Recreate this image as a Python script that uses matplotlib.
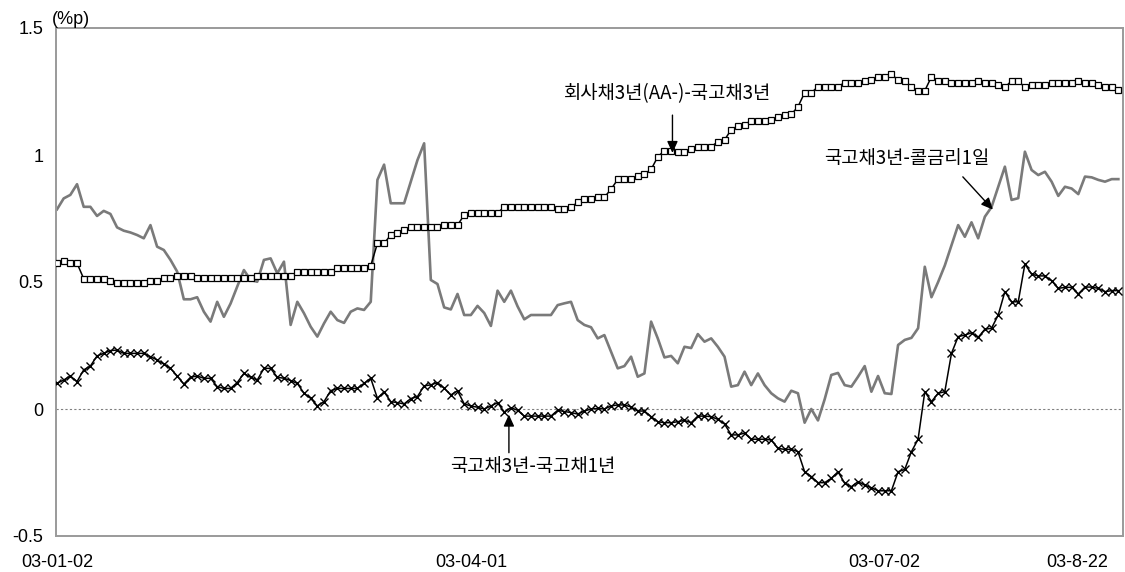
import matplotlib
matplotlib.use("Agg")
import matplotlib.pyplot as plt
import numpy as np

# ---- data (trading days 2003-01-02 .. 2003-08-22) ----
corp_minus_ktb3 = [  # 회사채3년(AA-)-국고채3년
    0.574, 0.583, 0.574, 0.574, 0.513, 0.513, 0.513, 0.513, 0.505, 0.495,
    0.495, 0.495, 0.495, 0.495, 0.505, 0.505, 0.514, 0.514, 0.525, 0.525,
    0.525, 0.514, 0.514, 0.514, 0.514, 0.514, 0.514, 0.514, 0.514, 0.514,
    0.522, 0.525, 0.525, 0.525, 0.525, 0.525, 0.539, 0.541, 0.541, 0.541,
    0.541, 0.541, 0.554, 0.554, 0.554, 0.554, 0.554, 0.564, 0.652, 0.652,
    0.685, 0.694, 0.705, 0.715, 0.715, 0.715, 0.715, 0.715, 0.724, 0.724,
    0.724, 0.764, 0.773, 0.773, 0.773, 0.773, 0.773, 0.794, 0.794, 0.794,
    0.794, 0.794, 0.794, 0.794, 0.794, 0.787, 0.787, 0.795, 0.813, 0.826,
    0.826, 0.834, 0.834, 0.865, 0.904, 0.904, 0.904, 0.917, 0.925, 0.943,
    0.993, 1.017, 1.017, 1.013, 1.013, 1.022, 1.033, 1.033, 1.033, 1.052,
    1.059, 1.100, 1.114, 1.120, 1.135, 1.135, 1.135, 1.138, 1.148, 1.157,
    1.160, 1.190, 1.245, 1.245, 1.269, 1.269, 1.269, 1.269, 1.285, 1.285,
    1.285, 1.291, 1.295, 1.306, 1.306, 1.318, 1.295, 1.292, 1.269, 1.253,
    1.253, 1.308, 1.293, 1.293, 1.285, 1.285, 1.285, 1.285, 1.292, 1.285,
    1.285, 1.276, 1.266, 1.292, 1.292, 1.266, 1.276, 1.276, 1.276, 1.285,
    1.285, 1.285, 1.285, 1.292, 1.285, 1.285, 1.276, 1.269, 1.269, 1.256,
]

ktb3_minus_call = [  # 국고채3년-콜금리1일
    0.786, 0.829, 0.843, 0.885, 0.796, 0.796, 0.760, 0.780, 0.768, 0.715,
    0.702, 0.695, 0.685, 0.672, 0.724, 0.639, 0.626, 0.587, 0.541, 0.432,
    0.432, 0.440, 0.383, 0.344, 0.422, 0.363, 0.415, 0.482, 0.547, 0.508,
    0.501, 0.587, 0.593, 0.534, 0.580, 0.331, 0.422, 0.377, 0.324, 0.285,
    0.337, 0.383, 0.350, 0.339, 0.383, 0.396, 0.390, 0.422, 0.902, 0.962,
    0.810, 0.810, 0.810, 0.895, 0.980, 1.046, 0.508, 0.492, 0.400, 0.392,
    0.453, 0.370, 0.370, 0.406, 0.378, 0.327, 0.466, 0.422, 0.466, 0.404,
    0.353, 0.370, 0.370, 0.370, 0.370, 0.409, 0.416, 0.422, 0.350, 0.331,
    0.322, 0.278, 0.291, 0.226, 0.160, 0.169, 0.206, 0.127, 0.140, 0.344,
    0.278, 0.203, 0.209, 0.180, 0.245, 0.240, 0.295, 0.265, 0.278, 0.245,
    0.206, 0.088, 0.094, 0.147, 0.094, 0.140, 0.094, 0.062, 0.042, 0.029,
    0.072, 0.062, -0.054, 0.000, -0.045, 0.038, 0.134, 0.142, 0.094, 0.088,
    0.127, 0.169, 0.068, 0.130, 0.062, 0.059, 0.252, 0.272, 0.280, 0.318,
    0.560, 0.440, 0.500, 0.565, 0.645, 0.724, 0.678, 0.735, 0.672, 0.757,
    0.795, 0.875, 0.954, 0.823, 0.830, 1.013, 0.941, 0.921, 0.934, 0.895,
    0.839, 0.875, 0.868, 0.846, 0.915, 0.912, 0.902, 0.895, 0.905, 0.905,
]

ktb3_minus_ktb1 = [  # 국고채3년-국고채1년
    0.101, 0.114, 0.130, 0.108, 0.154, 0.169, 0.209, 0.219, 0.230, 0.232,
    0.219, 0.219, 0.219, 0.219, 0.206, 0.193, 0.177, 0.160, 0.130, 0.098,
    0.125, 0.130, 0.121, 0.121, 0.088, 0.081, 0.081, 0.104, 0.140, 0.125,
    0.114, 0.160, 0.160, 0.125, 0.121, 0.112, 0.101, 0.062, 0.042, 0.012,
    0.029, 0.072, 0.081, 0.081, 0.081, 0.081, 0.101, 0.121, 0.042, 0.068,
    0.029, 0.025, 0.020, 0.041, 0.049, 0.091, 0.095, 0.104, 0.082, 0.055,
    0.072, 0.020, 0.012, 0.007, 0.000, 0.012, 0.025, -0.012, 0.005, -0.005,
    -0.028, -0.028, -0.028, -0.028, -0.028, -0.005, -0.010, -0.014, -0.020, -0.008,
    0.000, 0.002, 0.000, 0.012, 0.016, 0.016, 0.008, -0.008, -0.008, -0.030,
    -0.050, -0.054, -0.054, -0.050, -0.045, -0.054, -0.028, -0.028, -0.030, -0.041,
    -0.059, -0.102, -0.102, -0.095, -0.119, -0.119, -0.119, -0.122, -0.155, -0.159,
    -0.159, -0.168, -0.247, -0.266, -0.290, -0.290, -0.273, -0.247, -0.292, -0.306,
    -0.286, -0.300, -0.310, -0.322, -0.322, -0.322, -0.247, -0.238, -0.168, -0.119,
    0.068, 0.029, 0.062, 0.068, 0.219, 0.285, 0.291, 0.300, 0.282, 0.314,
    0.318, 0.370, 0.462, 0.422, 0.422, 0.571, 0.531, 0.524, 0.524, 0.505,
    0.475, 0.479, 0.479, 0.453, 0.480, 0.480, 0.475, 0.462, 0.466, 0.466,
]

xtick_pos = [0, 62, 124, 152.8]
xtick_labels = ["03-01-02", "03-04-01", "03-07-02", "03-8-22"]
ytick_vals = [-0.5, 0, 0.5, 1, 1.5]
ytick_labels = ["-0.5", "0", "0.5", "1", "1.5"]

label_corp = "회사채3년(AA-)-국고채3년"
label_call = "국고채3년-콜금리1일"
label_ktb1 = "국고채3년-국고채1년"

# ---- plotting ----
plt.rcParams['font.family'] = ['Liberation Sans', 'Noto Sans CJK KR', 'DejaVu Sans']

fig = plt.figure(figsize=(11.25, 5.72), dpi=100)
ax = fig.add_axes([56 / 1125, 36 / 572, 1066.7 / 1125, 508 / 572])

x = np.arange(len(corp_minus_ktb3))

ax.axhline(0, color='#808080', lw=0.8, ls=(0, (2, 2)), zorder=1)

ax.plot(x, ktb3_minus_call, color='#7a7a7a', lw=1.9, zorder=2)
ax.plot(x, corp_minus_ktb3, color='black', lw=1.1, marker='s', markersize=3.9,
        mfc='white', mec='black', mew=0.9, zorder=3)
ax.plot(x, ktb3_minus_ktb1, color='black', lw=1.1, marker='x', markersize=6,
        mec='black', mew=1.0, zorder=3)

ax.set_xlim(-0.15, 159.65)
ax.set_ylim(-0.5, 1.5)

for s in ax.spines.values():
    s.set_color('#9a9a9a')
    s.set_linewidth(1.4)

ax.set_yticks(ytick_vals)
ax.set_yticklabels(ytick_labels)
ax.set_xticks(xtick_pos)
ax.set_xticklabels(xtick_labels)
ax.tick_params(axis='both', length=0, labelsize=13, colors='black')
ax.tick_params(axis='y', pad=9)
ax.tick_params(axis='x', pad=13)

ax.text(-0.7, 1.5, "(%p)", ha='left', va='bottom', fontsize=13,
        transform=ax.transData, clip_on=False)

kfont = ['Noto Sans CJK KR', 'DejaVu Sans']
aprops = dict(arrowstyle='-|>,head_length=0.7,head_width=0.32', color='black',
              lw=1.0, shrinkA=0, shrinkB=0)

# 회사채3년(AA-)-국고채3년
ax.text(91.5, 1.242, label_corp, ha='center', va='center', fontsize=13.5, family=kfont)
ax.annotate('', xy=(92.2, 1.008), xytext=(92.2, 1.157), arrowprops=aprops)

# 국고채3년-콜금리1일
ax.text(127.3, 0.985, label_call, ha='center', va='center', fontsize=13.5, family=kfont)
ax.annotate('', xy=(140.2, 0.785), xytext=(135.7, 0.914), arrowprops=aprops)

# 국고채3년-국고채1년
ax.text(71.2, -0.227, label_ktb1, ha='center', va='center', fontsize=13.5, family=kfont)
ax.annotate('', xy=(67.7, -0.022), xytext=(67.7, -0.172), arrowprops=aprops)

fig.savefig("out.png", dpi=100)
